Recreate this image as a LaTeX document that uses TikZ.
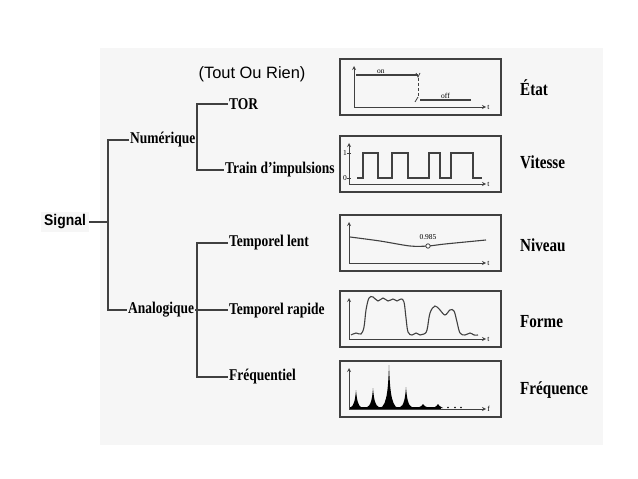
\documentclass[tikz,border=0pt]{standalone}
\usepackage{fontspec}
\setmainfont{Liberation Serif}
\setsansfont{Liberation Sans}
\newfontfamily\narrowserif[FakeStretch=0.82]{Liberation Serif}
\newfontfamily\narrowsans[FakeStretch=0.9]{Liberation Sans}
\usetikzlibrary{arrows, positioning, calc}
\definecolor{sheet}{HTML}{F6F6F6}
\definecolor{ink}{HTML}{404040}
\tikzset{
  branch/.style={font=\narrowserif\bfseries\fontsize{16.5}{18}\selectfont, inner sep=1pt, anchor=west}
}
\tikzset{
  quality/.style={font=\narrowserif\bfseries\fontsize{18.5}{20}\selectfont, inner sep=1pt, anchor=west},
  tinytext/.style={font=\fontsize{7.5}{8}\selectfont, inner sep=1pt},
  plotframe/.style={draw=ink, line width=1.3bp, minimum width=161bp, minimum height=56bp, inner sep=0pt},
  tree/.style={draw=ink, line width=1.1bp},
  axisline/.style={draw=ink, line width=0.8bp},
  trace/.style={draw=ink, line width=1.1bp}
}
\newcommand{\plotbox}[4]{%
  \node[plotframe] (#1) at (420.5,#2+28) {};
  \draw[axisline, ->] (#3,#2+48) -- (486,#2+48) node[right, tinytext] {#4};
  \draw[axisline, ->] (#3,#2+48) -- (#3,#2+7);
}

\begin{document}
\begin{tikzpicture}[x=1bp, y=-1bp, >=stealth]
  \useasboundingbox (0,0) rectangle (638,479);
  \fill[sheet] (100,48) rectangle (603,445);

  % tree of signal kinds
  \node[font=\narrowsans\bfseries\fontsize{15.5}{17}\selectfont, fill=sheet, inner sep=3pt, anchor=west] (signal) at (41,222) {Signal};
  \node[branch] (num) at (129,140) {Numérique};
  \node[branch] (ana) at (127,310) {Analogique};
  \node[branch] (tor) at (228,104) {TOR};
  \node[font=\sffamily\fontsize{16.5}{18}\selectfont] (tor-full) at (252,74) {(Tout Ou Rien)};
  \node[branch] (train) at (224,170) {Train d’impulsions};
  \node[branch] (lent) at (228,243) {Temporel lent};
  \node[branch] (rapide) at (228,311) {Temporel rapide};
  \node[branch] (freq) at (228,377) {Fréquentiel};

  \coordinate (rootfork) at (108,222);
  \coordinate (numfork) at (197,140);
  \coordinate (anafork) at (197,310);
  \draw[tree] (signal.east) -- (rootfork);
  \draw[tree] (num.west) -| (rootfork) |- (ana.west);
  \draw[tree] (tor.west) -| (numfork) |- (train.west);
  \draw[tree] (lent.west) -| (anafork) |- (freq.west);
  \draw[tree] (ana.east) -- (ana.east -| rapide.west);

  % plots
  \plotbox{etat}{59}{354}{t}
  \plotbox{vitesse}{136}{349}{t}
  \plotbox{niveau}{215}{349}{t}
  \plotbox{forme}{291}{349}{t}
  \plotbox{spectre}{361}{349}{f}

  \draw[trace] (356,75) -- (418,75) node[pos=0.4, above, tinytext] {on};
  \draw[axisline] (416,73) -- (418,77) -- (420,73);
  \draw[axisline, dash pattern=on 3bp off 2bp] (418,78) -- (418,98);
  \draw[axisline] (415,102) -- (418,97);
  \draw[trace] (420,100) -- (471,100) node[pos=0.5, above, tinytext] {off};

  \draw[trace] (357,178) -- (363,178) -- (363,153) -- (378,153) -- (378,178)
    -- (392,178) -- (392,153) -- (408,153) -- (408,178)
    -- (429,178) -- (429,153) -- (440,153) -- (440,178)
    -- (451,178) -- (451,153) -- (473,153) -- (473,178) -- (482,178);
  \foreach \lvl/\yy in {1/153, 0/178} {
    \draw[axisline] (347,\yy) -- (351,\yy);
    \node[tinytext, left] at (348,\yy) {\lvl};
  }

  \draw[trace] plot[smooth] coordinates {(350,237) (380,241) (410,246) (428,246) (445,244) (486,240)};
  \draw[axisline, fill=white] (428,246) circle (2.2bp);
  \node[tinytext, above] at (428,241) {0.985};

  \draw[trace] plot[smooth, tension=0.6] coordinates {(351,335) (356,333) (361,334) (364,327) (366,310)
    (369,298) (373,297) (378,301) (383,298) (388,301) (393,299) (397,301) (401,299) (404,302)
    (406,318) (408,332) (412,335) (416,333) (420,335) (424,334) (427,330) (430,313) (435,306)
    (440,310) (445,315) (450,310) (454,311) (457,322) (460,333) (465,335) (470,333) (474,335) (478,335)};

  \fill[black] (350,409) rectangle (441,407);
  \foreach \px/\py/\w in {356/390/6, 373/388/7, 389/365/9, 406/387/7, 423/404/6, 438/404/5} {
    \fill[black] (\px-\w,408) .. controls (\px-1.5,406) and (\px-0.8,{\py+0.45*(408-\py)}) .. (\px,\py)
      .. controls (\px+0.8,{\py+0.45*(408-\py)}) and (\px+1.5,406) .. (\px+\w,408) -- cycle;
  }
  \foreach \px in {448, 455, 461} {
    \fill[black] (\px,407.5) circle (0.9bp);
  }

  % what each kind carries
  \node[quality] (q-etat) at (519,88) {État};
  \node[quality] (q-vitesse) at (519,162) {Vitesse};
  \node[quality] (q-niveau) at (519,245) {Niveau};
  \node[quality] (q-forme) at (519,322) {Forme};
  \node[quality] (q-freq) at (519,390) {Fréquence};
\end{tikzpicture}
\end{document}
